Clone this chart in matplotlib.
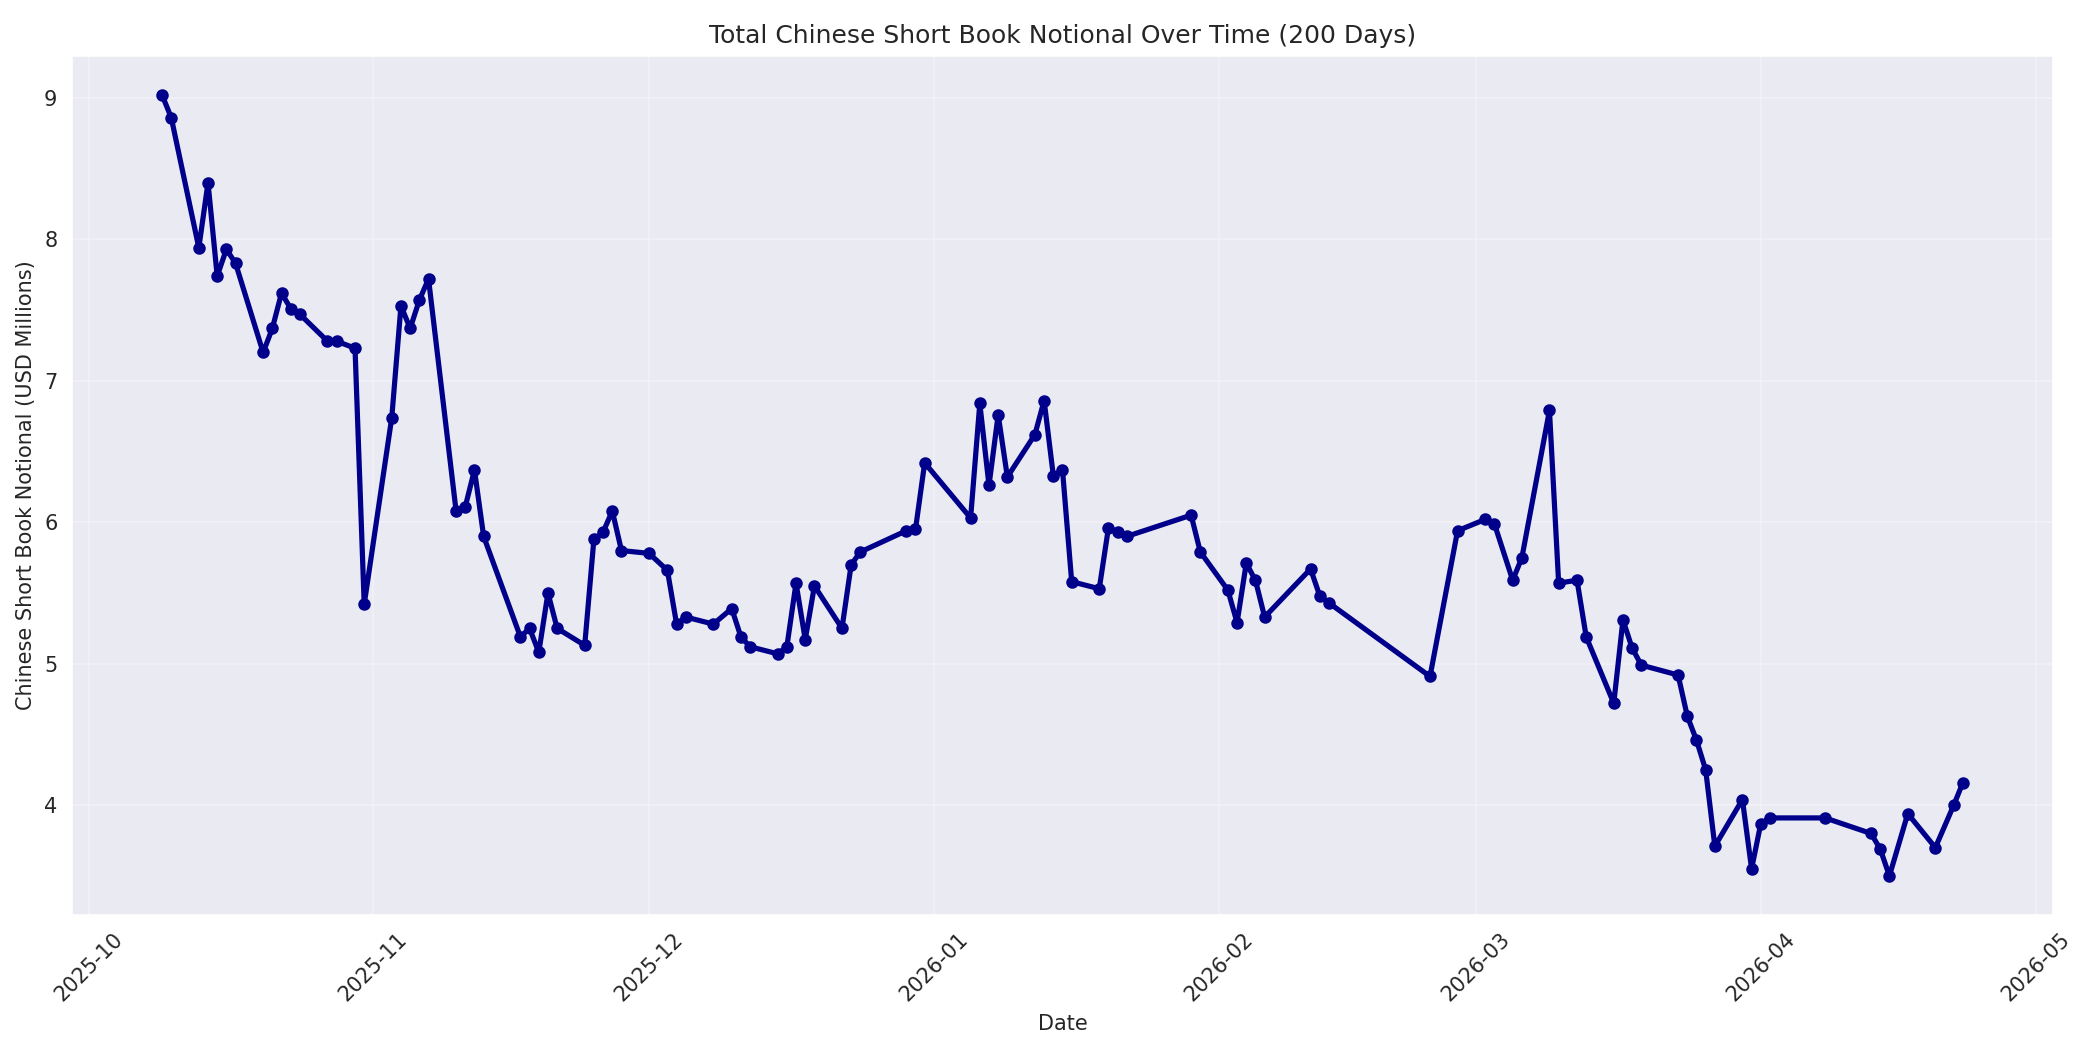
import matplotlib
matplotlib.use("Agg")
import matplotlib.pyplot as plt
import seaborn as sns
import pandas as pd

dates = [
    "2025-10-09", "2025-10-10", "2025-10-13", "2025-10-14", "2025-10-15", "2025-10-16", "2025-10-17",
    "2025-10-20", "2025-10-21", "2025-10-22", "2025-10-23", "2025-10-24", "2025-10-27", "2025-10-28",
    "2025-10-30", "2025-10-31", "2025-11-03", "2025-11-04", "2025-11-05", "2025-11-06", "2025-11-07",
    "2025-11-10", "2025-11-11", "2025-11-12", "2025-11-13", "2025-11-17", "2025-11-18", "2025-11-19",
    "2025-11-20", "2025-11-21", "2025-11-24", "2025-11-25", "2025-11-26", "2025-11-27", "2025-11-28",
    "2025-12-01", "2025-12-03", "2025-12-04", "2025-12-05", "2025-12-08", "2025-12-10", "2025-12-11",
    "2025-12-12", "2025-12-15", "2025-12-16", "2025-12-17", "2025-12-18", "2025-12-19", "2025-12-22",
    "2025-12-23", "2025-12-24", "2025-12-29", "2025-12-30", "2025-12-31", "2026-01-05", "2026-01-06",
    "2026-01-07", "2026-01-08", "2026-01-09", "2026-01-12", "2026-01-13", "2026-01-14", "2026-01-15",
    "2026-01-16", "2026-01-19", "2026-01-20", "2026-01-21", "2026-01-22", "2026-01-29", "2026-01-30",
    "2026-02-02", "2026-02-03", "2026-02-04", "2026-02-05", "2026-02-06", "2026-02-11", "2026-02-12",
    "2026-02-13", "2026-02-24", "2026-02-27", "2026-03-02", "2026-03-03", "2026-03-05", "2026-03-06",
    "2026-03-09", "2026-03-10", "2026-03-12", "2026-03-13", "2026-03-16", "2026-03-17", "2026-03-18",
    "2026-03-19", "2026-03-23", "2026-03-24", "2026-03-25", "2026-03-26", "2026-03-27", "2026-03-30",
    "2026-03-31", "2026-04-01", "2026-04-02", "2026-04-08", "2026-04-13", "2026-04-14", "2026-04-15",
    "2026-04-17", "2026-04-20", "2026-04-22", "2026-04-23",
]

notional_musd = [
    9.02, 8.86, 7.94, 8.40, 7.74, 7.93, 7.83,
    7.20, 7.37, 7.62, 7.51, 7.47, 7.28, 7.28,
    7.23, 5.42, 6.74, 7.53, 7.37, 7.57, 7.72,
    6.08, 6.11, 6.37, 5.90, 5.19, 5.25, 5.08,
    5.50, 5.25, 5.13, 5.88, 5.93, 6.08, 5.80,
    5.78, 5.66, 5.28, 5.33, 5.28, 5.39, 5.19,
    5.12, 5.07, 5.12, 5.57, 5.17, 5.55, 5.25,
    5.70, 5.79, 5.94, 5.95, 6.42, 6.03, 6.84,
    6.26, 6.76, 6.32, 6.62, 6.86, 6.33, 6.37,
    5.58, 5.53, 5.96, 5.93, 5.90, 6.05, 5.79,
    5.52, 5.29, 5.71, 5.59, 5.33, 5.67, 5.48,
    5.43, 4.91, 5.94, 6.02, 5.99, 5.59, 5.75,
    6.79, 5.57, 5.59, 5.19, 4.72, 5.31, 5.11,
    4.99, 4.92, 4.63, 4.46, 4.25, 3.71, 4.04,
    3.55, 3.87, 3.91, 3.91, 3.80, 3.69, 3.50,
    3.94, 3.70, 4.00, 4.16,
]

title = "Total Chinese Short Book Notional Over Time (200 Days)"
xlabel = "Date"
ylabel = "Chinese Short Book Notional (USD Millions)"

sns.set_style("darkgrid")
plt.rcParams['font.family'] = ['DejaVu Sans']

x = pd.to_datetime(dates)

fig, ax = plt.subplots(figsize=(14, 7), dpi=150)
ax.plot(x, notional_musd, color="darkblue", linewidth=2.5, marker="o", markersize=5)
ax.set_title(title, fontsize=12)
ax.set_xlabel(xlabel, fontsize=10)
ax.set_ylabel(ylabel, fontsize=10)
ax.grid(True, alpha=0.3)
plt.setp(ax.get_xticklabels(), rotation=45)
fig.subplots_adjust(left=0.0343, right=0.9776, top=0.9467, bottom=0.1286)
fig.savefig("out.png", dpi=150)
